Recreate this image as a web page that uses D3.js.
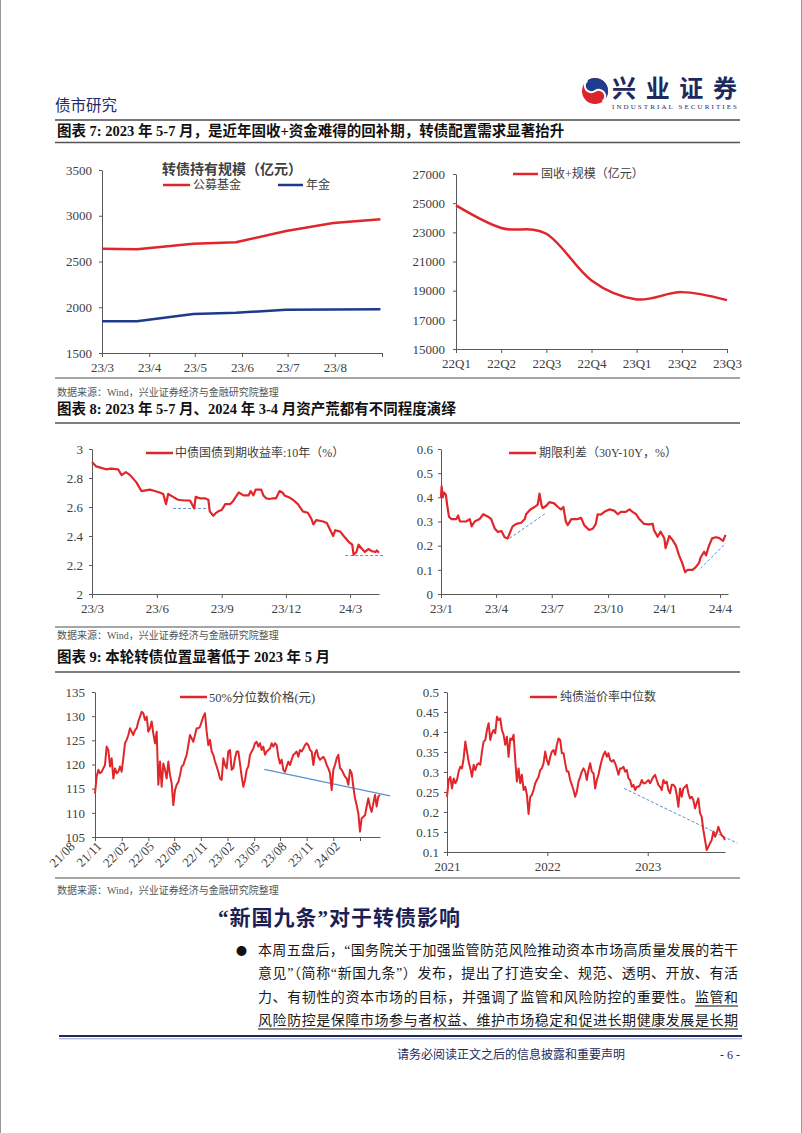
<!DOCTYPE html>
<html><head><meta charset="utf-8">
<script src="https://cdn.jsdelivr.net/npm/d3@7"></script>
<style>html,body{margin:0;padding:0;background:#fff;}svg{display:block;}</style>
</head><body>
<svg id="page" width="802" height="1133"></svg>
<script>
// ---------------- DATA ----------------
// Fig 7 left: 转债持有规模（亿元）
const holdDates = ["2023-03-01","2023-03-24","2023-04-30","2023-05-28","2023-06-30","2023-07-31","2023-08-31"];
const publicFund = [2640,2633,2695,2710,2833,2920,2963];
const pension    = [1846,1846,1926,1940,1973,1975,1978];
const holdMonthTicks = ["2023-03-01","2023-04-01","2023-05-01","2023-06-01","2023-07-01","2023-08-01","2023-09-01"];
const holdMonthLabels = ["23/3","23/4","23/5","23/6","23/7","23/8",""];
const holdYTicks = [1500,2000,2500,3000,3500];

// Fig 7 right: 固收+规模（亿元）
const quarters = ["22Q1","22Q2","22Q3","22Q4","23Q1","23Q2","23Q3"];
const fixedPlus = [24850,23300,22900,19700,18400,18900,18350];
const fixedPlusYTicks = [15000,17000,19000,21000,23000,25000,27000];

// Fig 8 left: 中债国债到期收益率:10年（%）
const cgb10 = [["2023-03-01",2.91],["2023-03-07",2.88],["2023-03-14",2.87],["2023-03-21",2.86],["2023-03-28",2.865],["2023-04-07",2.86],["2023-04-12",2.82],["2023-04-18",2.84],["2023-04-24",2.82],["2023-05-03",2.77],["2023-05-10",2.71],["2023-05-16",2.715],["2023-05-22",2.72],["2023-05-29",2.71],["2023-06-05",2.70],["2023-06-10",2.69],["2023-06-14",2.62],["2023-06-17",2.69],["2023-06-24",2.67],["2023-07-01",2.65],["2023-07-10",2.645],["2023-07-18",2.645],["2023-07-24",2.59],["2023-07-26",2.67],["2023-08-01",2.66],["2023-08-08",2.66],["2023-08-13",2.65],["2023-08-15",2.57],["2023-08-20",2.54],["2023-08-24",2.56],["2023-08-27",2.57],["2023-09-01",2.58],["2023-09-06",2.62],["2023-09-13",2.62],["2023-09-17",2.64],["2023-09-25",2.70],["2023-10-02",2.68],["2023-10-09",2.68],["2023-10-12",2.71],["2023-10-16",2.68],["2023-10-19",2.72],["2023-10-27",2.72],["2023-10-30",2.68],["2023-11-03",2.66],["2023-11-08",2.655],["2023-11-12",2.66],["2023-11-17",2.66],["2023-11-22",2.71],["2023-11-26",2.70],["2023-11-29",2.68],["2023-12-06",2.665],["2023-12-11",2.65],["2023-12-18",2.62],["2023-12-25",2.57],["2024-01-01",2.56],["2024-01-06",2.52],["2024-01-09",2.48],["2024-01-13",2.51],["2024-01-23",2.50],["2024-01-28",2.49],["2024-02-02",2.44],["2024-02-06",2.40],["2024-02-09",2.44],["2024-02-16",2.43],["2024-02-21",2.40],["2024-02-28",2.36],["2024-03-04",2.34],["2024-03-06",2.27],["2024-03-10",2.29],["2024-03-13",2.34],["2024-03-18",2.31],["2024-03-22",2.29],["2024-03-27",2.31],["2024-04-01",2.295],["2024-04-06",2.29],["2024-04-08",2.30],["2024-04-11",2.285]];
const cgbRefLines = [[["2023-06-24",2.59],["2023-08-13",2.59]],[["2024-02-23",2.265],["2024-04-17",2.265]]];
const cgbTicks = ["2023-03-01","2023-06-01","2023-09-01","2023-12-01","2024-03-01"];
const cgbTickLabels = ["23/3","23/6","23/9","23/12","24/3"];
const cgbYTicks = [2,2.2,2.4,2.6,2.8,3];

// Fig 8 right: 期限利差（30Y-10Y，%）
const termSpread = [["2023-01-01",0.40],["2023-01-02",0.445],["2023-01-04",0.40],["2023-01-06",0.42],["2023-01-09",0.41],["2023-01-11",0.37],["2023-01-14",0.32],["2023-01-18",0.31],["2023-01-26",0.31],["2023-01-29",0.325],["2023-02-01",0.30],["2023-02-11",0.30],["2023-02-17",0.31],["2023-02-20",0.28],["2023-02-25",0.30],["2023-03-05",0.31],["2023-03-11",0.33],["2023-03-19",0.32],["2023-03-24",0.31],["2023-03-30",0.27],["2023-04-04",0.257],["2023-04-10",0.26],["2023-04-15",0.235],["2023-04-20",0.23],["2023-04-23",0.25],["2023-04-28",0.28],["2023-05-04",0.29],["2023-05-12",0.295],["2023-05-18",0.31],["2023-05-20",0.33],["2023-05-27",0.35],["2023-06-03",0.36],["2023-06-08",0.37],["2023-06-11",0.415],["2023-06-14",0.37],["2023-06-16",0.355],["2023-06-22",0.365],["2023-06-27",0.38],["2023-07-05",0.375],["2023-07-11",0.36],["2023-07-16",0.35],["2023-07-20",0.36],["2023-07-24",0.30],["2023-07-27",0.285],["2023-08-02",0.31],["2023-08-12",0.31],["2023-08-18",0.315],["2023-08-23",0.285],["2023-08-31",0.265],["2023-09-06",0.27],["2023-09-11",0.29],["2023-09-14",0.33],["2023-09-19",0.328],["2023-09-25",0.34],["2023-10-03",0.35],["2023-10-11",0.345],["2023-10-17",0.33],["2023-10-22",0.34],["2023-10-30",0.34],["2023-11-05",0.35],["2023-11-10",0.34],["2023-11-16",0.33],["2023-11-21",0.31],["2023-11-29",0.29],["2023-12-07",0.288],["2023-12-13",0.29],["2023-12-15",0.265],["2023-12-21",0.237],["2023-12-26",0.258],["2024-01-01",0.23],["2024-01-03",0.19],["2024-01-09",0.24],["2024-01-14",0.225],["2024-01-20",0.20],["2024-01-25",0.16],["2024-01-30",0.13],["2024-02-04",0.09],["2024-02-08",0.10],["2024-02-16",0.10],["2024-02-21",0.11],["2024-02-27",0.13],["2024-02-29",0.15],["2024-03-06",0.175],["2024-03-09",0.16],["2024-03-14",0.20],["2024-03-19",0.23],["2024-03-25",0.235],["2024-03-30",0.232],["2024-04-06",0.22],["2024-04-10",0.245]];
const spreadRefLines = [[["2023-04-23",0.23],["2023-06-22",0.336]],[["2024-02-29",0.106],["2024-04-10",0.21]]];
const spreadTicks = ["2023-01-01","2023-04-01","2023-07-01","2023-10-01","2024-01-01","2024-04-01"];
const spreadTickLabels = ["23/1","23/4","23/7","23/10","24/1","24/4"];
const spreadYTicks = [0,0.1,0.2,0.3,0.4,0.5,0.6];

// Fig 9 left: 50%分位数价格(元), evenly sampled between start and end
const medPriceStart = "2021-08-01", medPriceEnd = "2024-04-10";
const medPrice = [114.0,117.5,118.9,118.2,118.5,119.2,119.9,123.7,123.0,119.6,121.3,117.1,119.2,118.2,118.5,119.6,118.5,121.3,124.4,125.1,126.1,127.5,126.8,126.1,127.1,127.5,128.9,129.9,130.9,130.6,129.2,129.9,126.8,127.5,128.9,126.4,124.4,126.8,115.8,120.6,115.4,120.2,118.9,117.1,120.6,117.8,116.1,111.6,114.7,115.8,116.4,117.8,119.6,119.9,121.0,122.0,124.0,126.1,125.4,124.7,126.1,127.5,127.5,127.8,128.9,129.9,130.6,126.8,124.0,125.1,122.7,122.0,120.6,119.6,118.5,117.1,116.8,121.3,119.9,119.2,122.7,123.0,118.9,119.2,121.3,122.7,122.7,120.2,117.5,115.4,116.8,118.9,119.6,122.0,122.7,123.3,124.4,124.7,123.7,124.4,123.0,123.7,122.0,122.7,123.0,123.3,124.4,123.7,124.4,124.0,121.6,120.2,121.0,118.9,118.5,119.6,120.6,119.9,121.0,122.0,122.3,122.7,121.6,123.0,122.7,123.3,124.0,124.4,124.0,123.0,122.7,119.9,122.3,123.0,121.6,121.0,121.3,121.6,121.0,119.9,119.2,118.2,114.7,118.9,119.9,121.3,122.0,119.2,118.9,118.2,117.5,117.1,115.8,118.9,118.2,115.4,113.0,111.6,109.9,106.1,108.9,109.2,109.5,111.3,113.0,111.3,110.2,112.0,113.7,111.3,113.4,113.7];
const medPriceTrend = [["2023-03-08",119.0],["2024-05-15",113.5]];
const medPriceTicks = ["2021-08-01","2021-11-01","2022-02-01","2022-05-01","2022-08-01","2022-11-01","2023-02-01","2023-05-01","2023-08-01","2023-11-01","2024-02-01"];
const medPriceTickLabels = ["21/08","21/11","22/02","22/05","22/08","22/11","23/02","23/05","23/08","23/11","24/02"];
const medPriceYTicks = [105,110,115,120,125,130,135];

// Fig 9 right: 纯债溢价率中位数, evenly sampled between start and end
const bondPremStart = "2021-07-05", bondPremEnd = "2024-04-11";
const bondPrem = [0.238,0.28,0.288,0.259,0.284,0.272,0.28,0.301,0.313,0.309,
0.334,0.376,0.351,0.326,0.309,0.288,0.318,0.305,0.318,0.322,
0.318,0.351,0.376,0.38,0.405,0.422,0.38,0.397,0.405,0.397,
0.438,0.43,0.434,0.405,0.393,0.368,0.388,0.338,0.384,0.38,
0.393,0.33,0.276,0.309,0.272,0.293,0.255,0.263,0.243,0.195,
0.238,0.243,0.255,0.272,0.28,0.288,0.305,0.309,0.322,0.351,
0.33,0.318,0.338,0.351,0.355,0.343,0.368,0.384,0.38,0.347,
0.347,0.322,0.301,0.301,0.28,0.268,0.255,0.238,0.251,0.276,
0.288,0.301,0.309,0.301,0.28,0.305,0.322,0.301,0.297,0.259,
0.28,0.293,0.313,0.33,0.343,0.351,0.338,0.347,0.33,0.326,
0.33,0.322,0.309,0.293,0.309,0.309,0.313,0.301,0.305,0.284,
0.28,0.263,0.268,0.255,0.263,0.263,0.268,0.28,0.272,0.272,
0.276,0.28,0.272,0.28,0.288,0.293,0.28,0.268,0.263,0.255,
0.28,0.272,0.276,0.255,0.247,0.268,0.268,0.263,0.243,0.213,
0.259,0.238,0.259,0.263,0.268,0.247,0.234,0.238,0.23,0.209,
0.222,0.234,0.197,0.188,0.155,0.13,0.105,0.113,0.122,0.13,
0.151,0.138,0.147,0.163,0.151,0.142,0.138,0.13];
const bondPremTrend = [["2023-04-10",0.259],["2024-05-26",0.122]];
const bondPremTicks = ["2021-07-05","2022-07-05","2023-07-05"];
const bondPremTickLabels = ["2021","2022","2023"];
const bondPremYTicks = [0.1,0.15,0.2,0.25,0.3,0.35,0.4,0.45,0.5];

// Page text
const figTitles = ["图表 7:  2023 年 5-7 月，是近年固收+资金难得的回补期，转债配置需求显著抬升",
  "图表 8:  2023 年 5-7 月、2024 年 3-4 月资产荒都有不同程度演绎",
  "图表 9:  本轮转债位置显著低于 2023 年 5 月"];
const sourceText = "数据来源：Wind，兴业证券经济与金融研究院整理";
const sectionTitle = "“新国九条”对于转债影响";
const bodyLines = ["本周五盘后，“国务院关于加强监管防范风险推动资本市场高质量发展的若干",
  "意见”（简称“新国九条”）发布，提出了打造安全、规范、透明、开放、有活",
  "力、有韧性的资本市场的目标，并强调了监管和风险防控的重要性。监管和",
  "风险防控是保障市场参与者权益、维护市场稳定和促进长期健康发展是长期"];

// ---------------- DRAW ----------------
const P = d3.timeParse("%Y-%m-%d");
const svg = d3.select("#page");
const SERIF = '"Liberation Serif","Noto Sans CJK SC",serif';
const CJK = '"Noto Sans CJK SC",sans-serif';
const NAVY = "#232a6b", RED = "#e1262b", BLUE7 = "#1d3a8c", TREND = "#5b8fd3", AX = "#595959", TXT = "#404040";

svg.append("rect").attr("width",802).attr("height",1133).attr("fill","#fff");
svg.append("line").attr("x1",0.5).attr("x2",0.5).attr("y1",0).attr("y2",1133).attr("stroke","#9a9a9a");
svg.append("line").attr("x1",801.5).attr("x2",801.5).attr("y1",0).attr("y2",1133).attr("stroke","#9a9a9a");

// header
svg.append("text").attr("x",55).attr("y",111).text("债市研究").attr("font-family",CJK).attr("font-size",15.5).attr("fill",NAVY);
const logo = svg.append("g").attr("transform","translate(595,91)");
logo.append("circle").attr("r",13).attr("fill","#d9252b");
logo.append("path").attr("d","M0,-13 A13,13 0 0 1 0,13 A6.5,6.5 0 0 0 0,0 A6.5,6.5 0 0 1 0,-13 Z").attr("fill","#1f3d8f").attr("transform","rotate(-35)");
logo.append("path").attr("d","M0,-13 A6.5,6.5 0 0 0 0,0 A6.5,6.5 0 0 1 0,13").attr("fill","none").attr("stroke","#fff").attr("stroke-width",2).attr("transform","rotate(-35)");
svg.append("text").attr("x",612).attr("y",97).text("兴业证券").attr("font-family",SERIF).attr("font-size",24).attr("font-weight","bold").attr("fill","#1e2a5e").attr("textLength",125).attr("lengthAdjust","spacing");
svg.append("text").attr("x",612).attr("y",109).text("INDUSTRIAL SECURITIES").attr("font-family",SERIF).attr("font-size",7).attr("fill","#1e2a5e").attr("textLength",125).attr("lengthAdjust","spacing");
svg.append("line").attr("x1",55).attr("x2",740).attr("y1",120).attr("y2",120).attr("stroke","#4a4a4a").attr("stroke-width",1.5);

// figure titles & sources
const titleY = [136,414,662], titleLineY = [142.5,423,672], srcLineY = [378,627,878], srcY = [396,639,894];
figTitles.forEach((t,i)=>{
  svg.append("text").attr("x",57).attr("y",titleY[i]).text(t).attr("font-family",SERIF).attr("font-weight","bold").attr("font-size",14.5).attr("fill","#111");
  svg.append("line").attr("x1",55).attr("x2",740).attr("y1",titleLineY[i]).attr("y2",titleLineY[i]).attr("stroke","#555").attr("stroke-width",1.5);
  svg.append("line").attr("x1",55).attr("x2",740).attr("y1",srcLineY[i]).attr("y2",srcLineY[i]).attr("stroke","#a6a6a6").attr("stroke-width",2);
  svg.append("text").attr("x",57).attr("y",srcY[i]).text(sourceText).attr("font-family",SERIF).attr("font-size",10).attr("fill","#555");
});

function styleAxis(g){
  g.attr("font-family",SERIF).attr("font-size",13);
  g.select(".domain").attr("stroke",AX);
  g.selectAll(".tick line").attr("stroke",AX);
  g.selectAll(".tick text").attr("fill",TXT);
}
function yAxis(x0, y, ticks, fmt, pad){
  const g = svg.append("g").attr("transform",`translate(${x0},0)`)
    .call(d3.axisLeft(y).tickValues(ticks).tickFormat(fmt||(d=>String(d))).tickSize(3).tickSizeOuter(0).tickPadding(pad));
  styleAxis(g); return g;
}
function xAxis(y0, x, ticks, labels){
  const g = svg.append("g").attr("transform",`translate(0,${y0})`)
    .call(d3.axisBottom(x).tickValues(ticks).tickFormat((d,i)=>labels[i]).tickSize(4).tickSizeOuter(0).tickPadding(6));
  styleAxis(g); return g;
}
function legend(x1,x2,y,color,text,tx,fs){
  svg.append("line").attr("x1",x1).attr("x2",x2).attr("y1",y).attr("y2",y).attr("stroke",color).attr("stroke-width",2.5);
  svg.append("text").attr("x",tx).attr("y",y).attr("dy","0.36em").text(text).attr("font-family",SERIF).attr("font-size",fs||12).attr("fill",TXT);
}
function drawLine(data,x,y,color,w,curve,dash){
  const p = svg.append("path").datum(data).attr("fill","none").attr("stroke",color).attr("stroke-width",w)
    .attr("stroke-linejoin","round").attr("d",d3.line().x(d=>x(d[0])).y(d=>y(d[1])).curve(curve||d3.curveLinear));
  if(dash) p.attr("stroke-dasharray",dash);
  return p;
}

// ---- Fig 7 left
{
  const x = d3.scaleTime().domain([P("2023-03-01"),P("2023-09-01")]).range([102,382]);
  const y = d3.scaleLinear().domain([1500,3500]).range([353,170]);
  yAxis(102,y,holdYTicks,null,7);
  xAxis(353,x,holdMonthTicks.map(P),holdMonthLabels);
  drawLine(holdDates.map((d,i)=>[P(d),publicFund[i]]),x,y,RED,2.5);
  drawLine(holdDates.map((d,i)=>[P(d),pension[i]]),x,y,BLUE7,2.5);
  svg.append("text").attr("x",162).attr("y",169).attr("dy","0.36em").text("转债持有规模（亿元）").attr("font-family",CJK).attr("font-weight","bold").attr("font-size",14).attr("fill","#404040");
  legend(163,190,185,RED,"公募基金",193,12);
  legend(278,303,185,BLUE7,"年金",306,12);
}
// ---- Fig 7 right
{
  const x = d3.scalePoint().domain(quarters).range([456,727]);
  const y = d3.scaleLinear().domain([15000,27000]).range([349,174]);
  yAxis(456,y,fixedPlusYTicks,null,8);
  xAxis(349,x,quarters,quarters);
  drawLine(quarters.map((q,i)=>[q,fixedPlus[i]]),x,y,RED,2.5,d3.curveCardinal);
  legend(513,538,174,RED,"固收+规模（亿元）",541,12);
}
// ---- Fig 8 left
{
  const x = d3.scaleTime().domain([P("2023-03-01"),P("2024-04-11")]).range([92,379]);
  const y = d3.scaleLinear().domain([2,3]).range([594,449]);
  yAxis(92,y,cgbYTicks,null,6);
  xAxis(594,x,cgbTicks.map(P),cgbTickLabels);
  cgbRefLines.forEach(l=>drawLine(l.map(d=>[P(d[0]),d[1]]),x,y,TREND,1,null,"3,2"));
  drawLine(cgb10.map(d=>[P(d[0]),d[1]]),x,y,RED,2.2);
  legend(146,173,453,RED,"中债国债到期收益率:10年（%）",175,12);
}
// ---- Fig 8 right
{
  const x = d3.scaleTime().domain([P("2023-01-01"),P("2024-04-14")]).range([441,728]);
  const y = d3.scaleLinear().domain([0,0.6]).range([594,449]);
  yAxis(441,y,spreadYTicks,null,5);
  xAxis(594,x,spreadTicks.map(P),spreadTickLabels);
  spreadRefLines.forEach(l=>drawLine(l.map(d=>[P(d[0]),d[1]]),x,y,TREND,1,null,"3,2"));
  drawLine(termSpread.map(d=>[P(d[0]),d[1]]),x,y,RED,2.2);
  legend(509,536,453,RED,"期限利差（30Y-10Y，%）",539,12);
}
// ---- Fig 9 left
{
  const s = P(medPriceStart), e = P(medPriceEnd), n = medPrice.length;
  const dates = medPrice.map((v,i)=>new Date(+s + (e - s)*i/(n-1)));
  const x = d3.scaleTime().domain([s,e]).range([95,380]);
  const y = d3.scaleLinear().domain([105,135]).range([837,692]);
  yAxis(95,y,medPriceYTicks,null,7);
  const gx = xAxis(837,x,medPriceTicks.map(P),medPriceTickLabels);
  gx.selectAll(".tick text").attr("x",0).attr("y",0).attr("dy","0.35em").attr("text-anchor","end").attr("transform","translate(-23,7) rotate(-45)");
  drawLine(medPriceTrend.map(d=>[P(d[0]),d[1]]),x,y,TREND,1.2);
  drawLine(medPrice.map((v,i)=>[dates[i],v]),x,y,RED,2);
  legend(180,207,697,RED,"50%分位数价格(元)",209,12.5);
}
// ---- Fig 9 right
{
  const s = P(bondPremStart), e = P(bondPremEnd), n = bondPrem.length;
  const dates = bondPrem.map((v,i)=>new Date(+s + (e - s)*i/(n-1)));
  const x = d3.scaleTime().domain([s,e]).range([447,725]);
  const y = d3.scaleLinear().domain([0.1,0.5]).range([852,692]);
  yAxis(447,y,bondPremYTicks,null,5);
  xAxis(852,x,bondPremTicks.map(P),bondPremTickLabels);
  drawLine(bondPremTrend.map(d=>[P(d[0]),d[1]]),x,y,TREND,1,null,"3,2");
  drawLine(bondPrem.map((v,i)=>[dates[i],v]),x,y,RED,2);
  legend(530,557,697,RED,"纯债溢价率中位数",560,12);
}

// ---- section text
svg.append("text").attr("x",218).attr("y",925).text(sectionTitle).attr("font-family",SERIF).attr("font-weight","bold").attr("font-size",21).attr("letter-spacing",1).attr("fill","#1c1f55");
svg.append("text").attr("x",236).attr("y",955).text("●").attr("font-family",CJK).attr("font-size",11).attr("fill","#111");
const lineY = [955,978,1002,1025];
const bodyNodes = bodyLines.map((t,i)=>svg.append("text").attr("x",258).attr("y",lineY[i]).text(t)
  .attr("font-family",SERIF).attr("font-size",14).attr("fill","#1a1a1a").attr("textLength",480).attr("lengthAdjust","spacing").node());
function underline(node, from, to, yy){
  const a = node.getStartPositionOfChar(from).x, b = node.getEndPositionOfChar(to).x;
  svg.append("line").attr("x1",a).attr("x2",b).attr("y1",yy).attr("y2",yy).attr("stroke","#111").attr("stroke-width",1);
}
underline(bodyNodes[2], bodyLines[2].length-3, bodyLines[2].length-1, 1006);
underline(bodyNodes[3], 0, bodyLines[3].length-1, 1029);

// ---- footer
svg.append("line").attr("x1",59).attr("x2",742).attr("y1",1036).attr("y2",1036).attr("stroke","#1e2a5e").attr("stroke-width",2.2);
svg.append("line").attr("x1",59).attr("x2",742).attr("y1",1038.8).attr("y2",1038.8).attr("stroke","#9da0c0").attr("stroke-width",1);
svg.append("text").attr("x",397).attr("y",1059).text("请务必阅读正文之后的信息披露和重要声明").attr("font-family",SERIF).attr("font-size",12).attr("fill","#1e2a5e").attr("textLength",228).attr("lengthAdjust","spacing");
svg.append("text").attr("x",740).attr("y",1059).attr("text-anchor","end").text("- 6 -").attr("font-family",SERIF).attr("font-size",12).attr("fill","#1e2a5e");
</script>
</body></html>
